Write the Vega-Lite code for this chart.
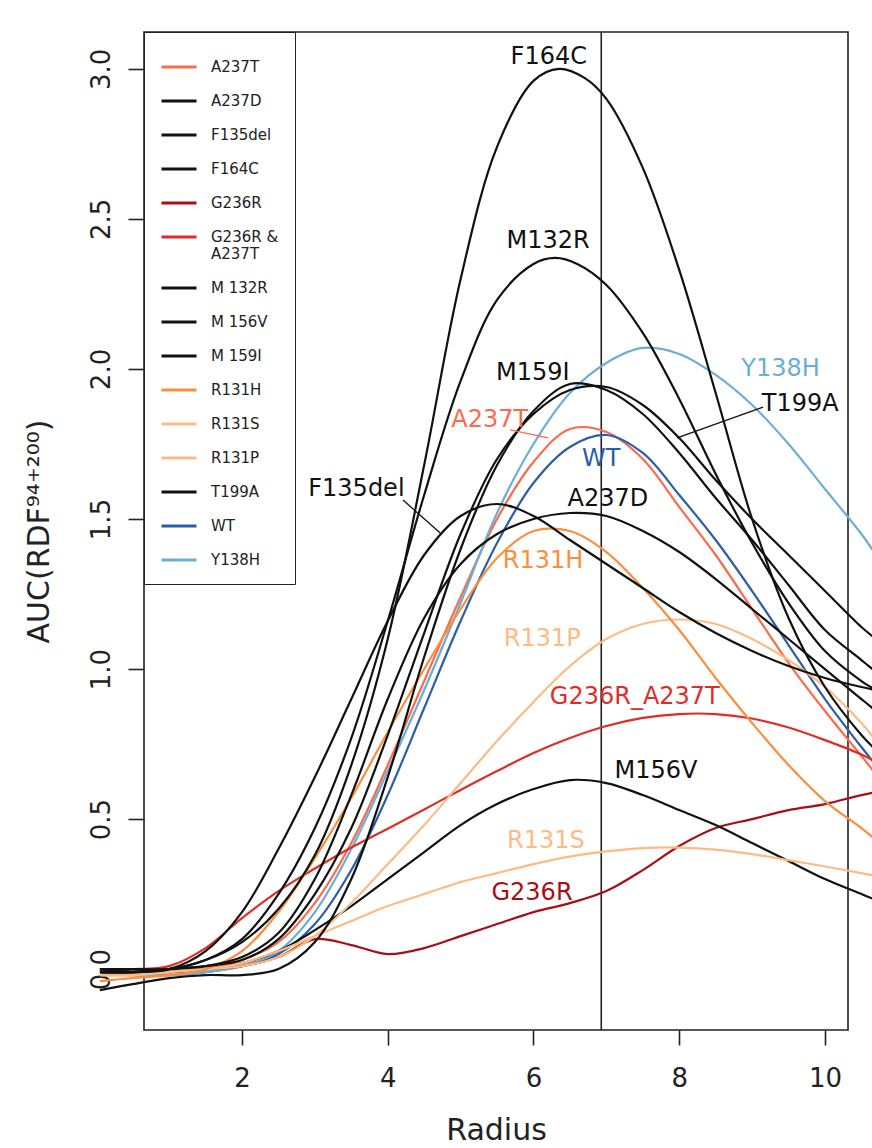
{
"$schema": "https://vega.github.io/schema/vega-lite/v6.json",
"width": 704, "height": 998,
"autosize": {"type": "none"},
"padding": {"left": 144, "top": 32, "right": 24, "bottom": 118},
"background": "white",
"config": {"view": {"stroke": "#222", "strokeWidth": 1.6}, "font": "DejaVu Sans"},
"datasets": {
"vlines": [{"r": 6.93}],
"leaders": [
{"series": "F135del", "r1": 4.21, "v1": 1.563, "r2": 4.72, "v2": 1.453},
{"series": "A237T", "r1": 5.68, "v1": 1.797, "r2": 6.2, "v2": 1.77},
{"series": "T199A", "r1": 9.15, "v1": 1.873, "r2": 7.97, "v2": 1.77}
],
"labels": [
{"series": "F164C", "label": "F164C", "r": 6.21, "v": 3.04},
{"series": "M132R", "label": "M132R", "r": 6.2, "v": 2.425},
{"series": "M159I", "label": "M159I", "r": 5.99, "v": 1.987},
{"series": "A237T", "label": "A237T", "r": 5.4, "v": 1.83},
{"series": "WT", "label": "WT", "r": 6.93, "v": 1.7},
{"series": "Y138H", "label": "Y138H", "r": 9.39, "v": 2.0},
{"series": "T199A", "label": "T199A", "r": 9.66, "v": 1.883},
{"series": "F135del", "label": "F135del", "r": 3.57, "v": 1.6},
{"series": "A237D", "label": "A237D", "r": 7.02, "v": 1.567},
{"series": "R131H", "label": "R131H", "r": 6.13, "v": 1.36},
{"series": "R131P", "label": "R131P", "r": 6.12, "v": 1.1},
{"series": "G236R_A237T", "label": "G236R_A237T", "r": 7.39, "v": 0.907},
{"series": "M156V", "label": "M156V", "r": 7.68, "v": 0.66},
{"series": "R131S", "label": "R131S", "r": 6.17, "v": 0.427},
{"series": "G236R", "label": "G236R", "r": 5.98, "v": 0.253}
],
"curves": [
{"series":"A237T","r":0.05,"v":0.0},{"series":"A237T","r":0.5,"v":-0.01},{"series":"A237T","r":1.0,"v":-0.01},{"series":"A237T","r":1.5,"v":0.0},{"series":"A237T","r":2.0,"v":0.03},{"series":"A237T","r":2.5,"v":0.09},{"series":"A237T","r":3.0,"v":0.22},{"series":"A237T","r":3.5,"v":0.42},{"series":"A237T","r":4.0,"v":0.68},{"series":"A237T","r":4.5,"v":0.96},{"series":"A237T","r":5.0,"v":1.24},{"series":"A237T","r":5.5,"v":1.5},{"series":"A237T","r":6.0,"v":1.69},{"series":"A237T","r":6.5,"v":1.8},{"series":"A237T","r":7.0,"v":1.79},{"series":"A237T","r":7.5,"v":1.7},{"series":"A237T","r":8.0,"v":1.54},{"series":"A237T","r":8.5,"v":1.38},{"series":"A237T","r":9.0,"v":1.2},{"series":"A237T","r":9.5,"v":1.02},{"series":"A237T","r":10.0,"v":0.86},{"series":"A237T","r":10.5,"v":0.71},{"series":"A237T","r":10.7,"v":0.65},
{"series":"WT","r":0.05,"v":-0.01},{"series":"WT","r":0.5,"v":-0.02},{"series":"WT","r":1.0,"v":-0.02},{"series":"WT","r":1.5,"v":-0.01},{"series":"WT","r":2.0,"v":0.01},{"series":"WT","r":2.5,"v":0.05},{"series":"WT","r":3.0,"v":0.15},{"series":"WT","r":3.5,"v":0.33},{"series":"WT","r":4.0,"v":0.58},{"series":"WT","r":4.5,"v":0.87},{"series":"WT","r":5.0,"v":1.16},{"series":"WT","r":5.5,"v":1.42},{"series":"WT","r":6.0,"v":1.62},{"series":"WT","r":6.5,"v":1.74},{"series":"WT","r":7.0,"v":1.78},{"series":"WT","r":7.5,"v":1.72},{"series":"WT","r":8.0,"v":1.58},{"series":"WT","r":8.5,"v":1.43},{"series":"WT","r":9.0,"v":1.26},{"series":"WT","r":9.5,"v":1.08},{"series":"WT","r":10.0,"v":0.9},{"series":"WT","r":10.5,"v":0.74},{"series":"WT","r":10.7,"v":0.68},
{"series":"Y138H","r":0.05,"v":-0.01},{"series":"Y138H","r":0.5,"v":-0.02},{"series":"Y138H","r":1.0,"v":-0.02},{"series":"Y138H","r":1.5,"v":-0.01},{"series":"Y138H","r":2.0,"v":0.01},{"series":"Y138H","r":2.5,"v":0.06},{"series":"Y138H","r":3.0,"v":0.19},{"series":"Y138H","r":3.5,"v":0.4},{"series":"Y138H","r":4.0,"v":0.66},{"series":"Y138H","r":4.5,"v":0.93},{"series":"Y138H","r":5.0,"v":1.22},{"series":"Y138H","r":5.5,"v":1.52},{"series":"Y138H","r":6.0,"v":1.75},{"series":"Y138H","r":6.5,"v":1.92},{"series":"Y138H","r":7.0,"v":2.02},{"series":"Y138H","r":7.5,"v":2.07},{"series":"Y138H","r":8.0,"v":2.05},{"series":"Y138H","r":8.5,"v":1.98},{"series":"Y138H","r":9.0,"v":1.88},{"series":"Y138H","r":9.5,"v":1.75},{"series":"Y138H","r":10.0,"v":1.6},{"series":"Y138H","r":10.5,"v":1.45},{"series":"Y138H","r":10.7,"v":1.38},
{"series":"G236R_A237T","r":0.05,"v":0.0},{"series":"G236R_A237T","r":0.5,"v":0.0},{"series":"G236R_A237T","r":1.0,"v":0.01},{"series":"G236R_A237T","r":1.5,"v":0.07},{"series":"G236R_A237T","r":2.0,"v":0.17},{"series":"G236R_A237T","r":2.5,"v":0.26},{"series":"G236R_A237T","r":3.0,"v":0.335},{"series":"G236R_A237T","r":3.5,"v":0.405},{"series":"G236R_A237T","r":4.0,"v":0.468},{"series":"G236R_A237T","r":4.5,"v":0.532},{"series":"G236R_A237T","r":5.0,"v":0.597},{"series":"G236R_A237T","r":5.5,"v":0.66},{"series":"G236R_A237T","r":6.0,"v":0.72},{"series":"G236R_A237T","r":6.5,"v":0.77},{"series":"G236R_A237T","r":7.0,"v":0.81},{"series":"G236R_A237T","r":7.5,"v":0.837},{"series":"G236R_A237T","r":8.0,"v":0.85},{"series":"G236R_A237T","r":8.5,"v":0.85},{"series":"G236R_A237T","r":9.0,"v":0.835},{"series":"G236R_A237T","r":9.5,"v":0.805},{"series":"G236R_A237T","r":10.0,"v":0.763},{"series":"G236R_A237T","r":10.5,"v":0.715},{"series":"G236R_A237T","r":10.7,"v":0.69},
{"series":"G236R","r":0.05,"v":0.0},{"series":"G236R","r":0.5,"v":-0.01},{"series":"G236R","r":1.0,"v":-0.01},{"series":"G236R","r":1.5,"v":0.0},{"series":"G236R","r":2.0,"v":0.01},{"series":"G236R","r":2.5,"v":0.04},{"series":"G236R","r":3.0,"v":0.1},{"series":"G236R","r":3.5,"v":0.08},{"series":"G236R","r":4.0,"v":0.05},{"series":"G236R","r":4.5,"v":0.07},{"series":"G236R","r":5.0,"v":0.11},{"series":"G236R","r":5.5,"v":0.15},{"series":"G236R","r":6.0,"v":0.19},{"series":"G236R","r":6.5,"v":0.22},{"series":"G236R","r":7.0,"v":0.26},{"series":"G236R","r":7.5,"v":0.33},{"series":"G236R","r":8.0,"v":0.41},{"series":"G236R","r":8.5,"v":0.47},{"series":"G236R","r":9.0,"v":0.5},{"series":"G236R","r":9.5,"v":0.53},{"series":"G236R","r":10.0,"v":0.55},{"series":"G236R","r":10.5,"v":0.58},{"series":"G236R","r":10.7,"v":0.59},
{"series":"M156V","r":0.05,"v":0.0},{"series":"M156V","r":0.5,"v":-0.01},{"series":"M156V","r":1.0,"v":-0.01},{"series":"M156V","r":1.5,"v":0.0},{"series":"M156V","r":2.0,"v":0.02},{"series":"M156V","r":2.5,"v":0.06},{"series":"M156V","r":3.0,"v":0.13},{"series":"M156V","r":3.5,"v":0.21},{"series":"M156V","r":4.0,"v":0.3},{"series":"M156V","r":4.5,"v":0.39},{"series":"M156V","r":5.0,"v":0.48},{"series":"M156V","r":5.5,"v":0.55},{"series":"M156V","r":6.0,"v":0.6},{"series":"M156V","r":6.5,"v":0.63},{"series":"M156V","r":7.0,"v":0.62},{"series":"M156V","r":7.5,"v":0.58},{"series":"M156V","r":8.0,"v":0.53},{"series":"M156V","r":8.5,"v":0.48},{"series":"M156V","r":9.0,"v":0.42},{"series":"M156V","r":9.5,"v":0.36},{"series":"M156V","r":10.0,"v":0.3},{"series":"M156V","r":10.5,"v":0.25},{"series":"M156V","r":10.7,"v":0.23},
{"series":"R131S","r":0.05,"v":-0.02},{"series":"R131S","r":0.5,"v":-0.02},{"series":"R131S","r":1.0,"v":-0.01},{"series":"R131S","r":1.5,"v":0.0},{"series":"R131S","r":2.0,"v":0.02},{"series":"R131S","r":2.5,"v":0.06},{"series":"R131S","r":3.0,"v":0.11},{"series":"R131S","r":3.5,"v":0.16},{"series":"R131S","r":4.0,"v":0.21},{"series":"R131S","r":4.5,"v":0.25},{"series":"R131S","r":5.0,"v":0.29},{"series":"R131S","r":5.5,"v":0.32},{"series":"R131S","r":6.0,"v":0.35},{"series":"R131S","r":6.5,"v":0.375},{"series":"R131S","r":7.0,"v":0.392},{"series":"R131S","r":7.5,"v":0.403},{"series":"R131S","r":8.0,"v":0.405},{"series":"R131S","r":8.5,"v":0.398},{"series":"R131S","r":9.0,"v":0.383},{"series":"R131S","r":9.5,"v":0.363},{"series":"R131S","r":10.0,"v":0.342},{"series":"R131S","r":10.5,"v":0.32},{"series":"R131S","r":10.7,"v":0.31},
{"series":"R131P","r":0.05,"v":-0.02},{"series":"R131P","r":0.5,"v":-0.02},{"series":"R131P","r":1.0,"v":-0.01},{"series":"R131P","r":1.5,"v":0.0},{"series":"R131P","r":2.0,"v":0.01},{"series":"R131P","r":2.5,"v":0.04},{"series":"R131P","r":3.0,"v":0.11},{"series":"R131P","r":3.5,"v":0.22},{"series":"R131P","r":4.0,"v":0.35},{"series":"R131P","r":4.5,"v":0.48},{"series":"R131P","r":5.0,"v":0.62},{"series":"R131P","r":5.5,"v":0.76},{"series":"R131P","r":6.0,"v":0.89},{"series":"R131P","r":6.5,"v":1.01},{"series":"R131P","r":7.0,"v":1.1},{"series":"R131P","r":7.5,"v":1.15},{"series":"R131P","r":8.0,"v":1.165},{"series":"R131P","r":8.5,"v":1.15},{"series":"R131P","r":9.0,"v":1.1},{"series":"R131P","r":9.5,"v":1.03},{"series":"R131P","r":10.0,"v":0.94},{"series":"R131P","r":10.5,"v":0.82},{"series":"R131P","r":10.7,"v":0.76},
{"series":"R131H","r":0.05,"v":-0.04},{"series":"R131H","r":0.5,"v":-0.03},{"series":"R131H","r":1.0,"v":-0.02},{"series":"R131H","r":1.5,"v":0.0},{"series":"R131H","r":2.0,"v":0.06},{"series":"R131H","r":2.5,"v":0.19},{"series":"R131H","r":3.0,"v":0.37},{"series":"R131H","r":3.5,"v":0.57},{"series":"R131H","r":4.0,"v":0.79},{"series":"R131H","r":4.5,"v":1.0},{"series":"R131H","r":5.0,"v":1.2},{"series":"R131H","r":5.5,"v":1.37},{"series":"R131H","r":6.0,"v":1.46},{"series":"R131H","r":6.5,"v":1.46},{"series":"R131H","r":7.0,"v":1.39},{"series":"R131H","r":7.5,"v":1.27},{"series":"R131H","r":8.0,"v":1.13},{"series":"R131H","r":8.5,"v":0.97},{"series":"R131H","r":9.0,"v":0.82},{"series":"R131H","r":9.5,"v":0.68},{"series":"R131H","r":10.0,"v":0.56},{"series":"R131H","r":10.5,"v":0.47},{"series":"R131H","r":10.7,"v":0.43},
{"series":"A237D","r":0.05,"v":-0.01},{"series":"A237D","r":0.5,"v":-0.01},{"series":"A237D","r":1.0,"v":0.0},{"series":"A237D","r":1.5,"v":0.01},{"series":"A237D","r":2.0,"v":0.04},{"series":"A237D","r":2.5,"v":0.12},{"series":"A237D","r":3.0,"v":0.3},{"series":"A237D","r":3.5,"v":0.58},{"series":"A237D","r":4.0,"v":0.9},{"series":"A237D","r":4.5,"v":1.17},{"series":"A237D","r":5.0,"v":1.35},{"series":"A237D","r":5.5,"v":1.45},{"series":"A237D","r":6.0,"v":1.5},{"series":"A237D","r":6.5,"v":1.52},{"series":"A237D","r":7.0,"v":1.51},{"series":"A237D","r":7.5,"v":1.46},{"series":"A237D","r":8.0,"v":1.39},{"series":"A237D","r":8.5,"v":1.3},{"series":"A237D","r":9.0,"v":1.2},{"series":"A237D","r":9.5,"v":1.1},{"series":"A237D","r":10.0,"v":1.0},{"series":"A237D","r":10.5,"v":0.9},{"series":"A237D","r":10.7,"v":0.86},
{"series":"F135del","r":0.05,"v":-0.01},{"series":"F135del","r":0.5,"v":-0.01},{"series":"F135del","r":1.0,"v":0.0},{"series":"F135del","r":1.5,"v":0.06},{"series":"F135del","r":2.0,"v":0.19},{"series":"F135del","r":2.5,"v":0.4},{"series":"F135del","r":3.0,"v":0.64},{"series":"F135del","r":3.5,"v":0.9},{"series":"F135del","r":4.0,"v":1.16},{"series":"F135del","r":4.5,"v":1.38},{"series":"F135del","r":5.0,"v":1.51},{"series":"F135del","r":5.5,"v":1.55},{"series":"F135del","r":6.0,"v":1.51},{"series":"F135del","r":6.5,"v":1.43},{"series":"F135del","r":7.0,"v":1.35},{"series":"F135del","r":7.5,"v":1.27},{"series":"F135del","r":8.0,"v":1.19},{"series":"F135del","r":8.5,"v":1.12},{"series":"F135del","r":9.0,"v":1.06},{"series":"F135del","r":9.5,"v":1.01},{"series":"F135del","r":10.0,"v":0.97},{"series":"F135del","r":10.5,"v":0.94},{"series":"F135del","r":10.7,"v":0.93},
{"series":"F164C","r":0.05,"v":0.0},{"series":"F164C","r":0.5,"v":0.0},{"series":"F164C","r":1.0,"v":0.0},{"series":"F164C","r":1.5,"v":0.03},{"series":"F164C","r":2.0,"v":0.09},{"series":"F164C","r":2.5,"v":0.2},{"series":"F164C","r":3.0,"v":0.38},{"series":"F164C","r":3.5,"v":0.68},{"series":"F164C","r":4.0,"v":1.1},{"series":"F164C","r":4.5,"v":1.68},{"series":"F164C","r":5.0,"v":2.3},{"series":"F164C","r":5.5,"v":2.74},{"series":"F164C","r":6.0,"v":2.96},{"series":"F164C","r":6.35,"v":3.0},{"series":"F164C","r":6.7,"v":2.97},{"series":"F164C","r":7.0,"v":2.9},{"series":"F164C","r":7.5,"v":2.67},{"series":"F164C","r":8.0,"v":2.33},{"series":"F164C","r":8.5,"v":1.92},{"series":"F164C","r":9.0,"v":1.5},{"series":"F164C","r":9.5,"v":1.17},{"series":"F164C","r":10.0,"v":0.94},{"series":"F164C","r":10.5,"v":0.78},{"series":"F164C","r":10.7,"v":0.73},
{"series":"M132R","r":0.05,"v":0.0},{"series":"M132R","r":0.5,"v":0.0},{"series":"M132R","r":1.0,"v":0.0},{"series":"M132R","r":1.5,"v":0.03},{"series":"M132R","r":2.0,"v":0.1},{"series":"M132R","r":2.5,"v":0.25},{"series":"M132R","r":3.0,"v":0.47},{"series":"M132R","r":3.5,"v":0.77},{"series":"M132R","r":4.0,"v":1.16},{"series":"M132R","r":4.5,"v":1.58},{"series":"M132R","r":5.0,"v":1.96},{"series":"M132R","r":5.5,"v":2.23},{"series":"M132R","r":6.0,"v":2.35},{"series":"M132R","r":6.3,"v":2.37},{"series":"M132R","r":6.6,"v":2.35},{"series":"M132R","r":7.0,"v":2.28},{"series":"M132R","r":7.5,"v":2.12},{"series":"M132R","r":8.0,"v":1.9},{"series":"M132R","r":8.5,"v":1.65},{"series":"M132R","r":9.0,"v":1.42},{"series":"M132R","r":9.5,"v":1.22},{"series":"M132R","r":10.0,"v":1.06},{"series":"M132R","r":10.5,"v":0.96},{"series":"M132R","r":10.7,"v":0.93},
{"series":"M159I","r":0.05,"v":-0.07},{"series":"M159I","r":0.5,"v":-0.05},{"series":"M159I","r":1.0,"v":-0.03},{"series":"M159I","r":1.5,"v":-0.02},{"series":"M159I","r":2.0,"v":-0.02},{"series":"M159I","r":2.5,"v":0.0},{"series":"M159I","r":3.0,"v":0.09},{"series":"M159I","r":3.5,"v":0.3},{"series":"M159I","r":4.0,"v":0.64},{"series":"M159I","r":4.5,"v":1.04},{"series":"M159I","r":5.0,"v":1.4},{"series":"M159I","r":5.5,"v":1.68},{"series":"M159I","r":6.0,"v":1.86},{"series":"M159I","r":6.5,"v":1.95},{"series":"M159I","r":7.0,"v":1.93},{"series":"M159I","r":7.5,"v":1.85},{"series":"M159I","r":8.0,"v":1.72},{"series":"M159I","r":8.5,"v":1.57},{"series":"M159I","r":9.0,"v":1.43},{"series":"M159I","r":9.5,"v":1.28},{"series":"M159I","r":10.0,"v":1.13},{"series":"M159I","r":10.5,"v":1.03},{"series":"M159I","r":10.7,"v":0.99},
{"series":"T199A","r":0.05,"v":-0.01},{"series":"T199A","r":0.5,"v":-0.01},{"series":"T199A","r":1.0,"v":0.0},{"series":"T199A","r":1.5,"v":0.01},{"series":"T199A","r":2.0,"v":0.03},{"series":"T199A","r":2.5,"v":0.1},{"series":"T199A","r":3.0,"v":0.25},{"series":"T199A","r":3.5,"v":0.47},{"series":"T199A","r":4.0,"v":0.78},{"series":"T199A","r":4.5,"v":1.12},{"series":"T199A","r":5.0,"v":1.45},{"series":"T199A","r":5.5,"v":1.7},{"series":"T199A","r":6.0,"v":1.85},{"series":"T199A","r":6.5,"v":1.93},{"series":"T199A","r":7.0,"v":1.94},{"series":"T199A","r":7.5,"v":1.88},{"series":"T199A","r":8.0,"v":1.77},{"series":"T199A","r":8.5,"v":1.63},{"series":"T199A","r":9.0,"v":1.5},{"series":"T199A","r":9.5,"v":1.38},{"series":"T199A","r":10.0,"v":1.26},{"series":"T199A","r":10.5,"v":1.14},{"series":"T199A","r":10.7,"v":1.1}
]
},
"layer": [
{"data": {"name": "vlines"}, "mark": {"type": "rule", "color": "#222", "strokeWidth": 1.6},
 "encoding": {"x": {"field": "r", "type": "quantitative"}}},
{"data": {"name": "curves"}, "mark": {"type": "line", "interpolate": "catmull-rom", "strokeWidth": 2.2},
 "encoding": {
  "x": {"field": "r", "type": "quantitative",
   "scale": {"domain": [0.655, 10.316], "nice": false, "zero": false},
   "axis": {"values": [2, 4, 6, 8, 10], "format": "d", "grid": false, "domain": false, "tickSize": 15, "tickColor": "#222", "tickWidth": 1.6,
    "labelFontSize": 26, "labelColor": "#222", "labelPadding": 20, "labelFont": "DejaVu Sans",
    "title": "Radius", "titleFontSize": 30, "titleFontWeight": "normal", "titleColor": "#222", "titlePadding": 24, "titleFont": "DejaVu Sans"}},
  "y": {"field": "v", "type": "quantitative",
   "scale": {"domain": [-0.203, 3.123], "nice": false, "zero": false},
   "axis": {"values": [0, 0.5, 1, 1.5, 2, 2.5, 3], "format": ".1f", "grid": false, "domain": false, "tickSize": 16, "tickColor": "#222", "tickWidth": 1.6,
    "labelFontSize": 26, "labelColor": "#222", "labelPadding": 14, "labelAngle": 270, "labelAlign": "center", "labelBaseline": "bottom", "labelFont": "DejaVu Sans",
    "title": "AUC(RDF⁹⁴⁺²⁰⁰)", "titleFontSize": 30, "titleFontWeight": "normal", "titleColor": "#222", "titlePadding": 34, "titleFont": "DejaVu Sans"}},
  "color": {"field": "series", "type": "nominal",
   "scale": {"domain": ["A237T", "A237D", "F135del", "F164C", "G236R", "G236R_A237T", "M132R", "M156V", "M159I", "R131H", "R131S", "R131P", "T199A", "WT", "Y138H"],
    "range": ["#fb6a4a", "#111111", "#111111", "#111111", "#a50f15", "#de2d26", "#111111", "#111111", "#111111", "#fd8d3c", "#fdbb84", "#fdbb84", "#111111", "#2a5ea8", "#6baed6"]},
   "legend": {"orient": "top-left", "offset": 0, "title": null, "symbolType": "stroke", "symbolStrokeWidth": 3, "symbolSize": 1225,
    "labelFontSize": 15, "labelFont": "DejaVu Sans", "labelColor": "#222", "padding": 16, "rowPadding": 7, "labelOffset": 13,
    "strokeColor": "#222", "fillColor": "white",
    "labelExpr": "datum.label == 'G236R_A237T' ? ['G236R &', 'A237T'] : datum.label == 'M132R' ? 'M 132R' : datum.label == 'M156V' ? 'M 156V' : datum.label == 'M159I' ? 'M 159I' : datum.label"}}
 }},
{"data": {"name": "leaders"}, "mark": {"type": "rule", "strokeWidth": 1.3},
 "encoding": {"x": {"field": "r1", "type": "quantitative"}, "y": {"field": "v1", "type": "quantitative"},
  "x2": {"field": "r2"}, "y2": {"field": "v2"}, "color": {"field": "series", "type": "nominal"}}},
{"data": {"name": "labels"}, "mark": {"type": "text", "fontSize": 24, "font": "DejaVu Sans", "baseline": "middle", "align": "center"},
 "encoding": {"x": {"field": "r", "type": "quantitative"}, "y": {"field": "v", "type": "quantitative"},
  "text": {"field": "label"}, "color": {"field": "series", "type": "nominal"}}}
]
}
